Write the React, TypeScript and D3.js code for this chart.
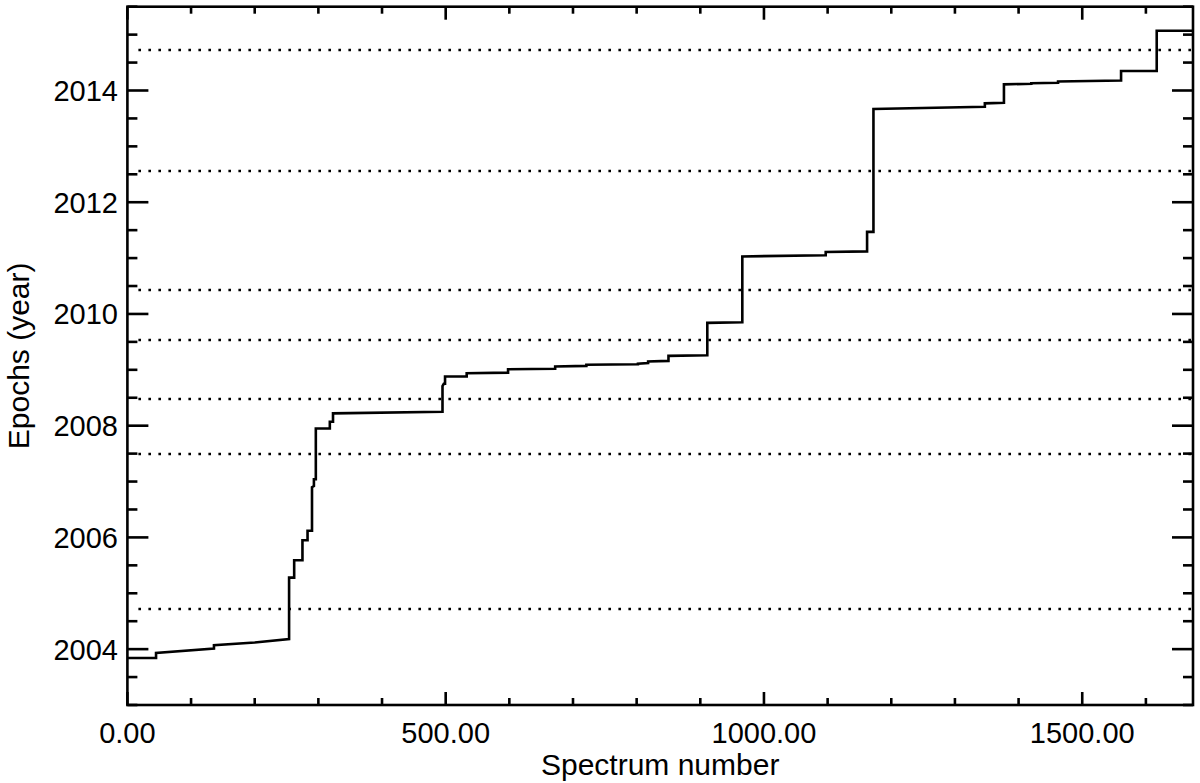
import React from "react";
import * as d3 from "d3";

// Spectrum number (x) and epoch in years (y) of the sorted spectra
const spectrumIndex = [
  0, 45, 45, 136, 136, 200, 254, 254, 262, 262, 275, 275, 283, 283, 290, 290, 293, 293, 296, 296,
  318, 318, 323, 323, 495, 495, 497, 499, 499, 533, 533, 598, 598, 672, 672, 721, 721, 802, 802,
  818, 818, 850, 850, 911, 911, 966, 966, 1097, 1097, 1162, 1162, 1172, 1172, 1347, 1347, 1377,
  1377, 1420, 1420, 1462, 1462, 1561, 1561, 1617, 1617, 1674,
];
const epochYear = [
  2003.84, 2003.84, 2003.93, 2004.01, 2004.07, 2004.12, 2004.18, 2005.28, 2005.28, 2005.59, 2005.59,
  2005.95, 2005.95, 2006.12, 2006.12, 2006.9, 2006.92, 2007.04, 2007.04, 2007.95, 2007.95, 2008.07,
  2008.07, 2008.22, 2008.25, 2008.71, 2008.75, 2008.75, 2008.88, 2008.88, 2008.94, 2008.95, 2009.01,
  2009.02, 2009.06, 2009.07, 2009.09, 2009.1, 2009.11, 2009.12, 2009.15, 2009.16, 2009.25, 2009.26,
  2009.84, 2009.85, 2011.03, 2011.05, 2011.11, 2011.12, 2011.47, 2011.47, 2013.67, 2013.71, 2013.77,
  2013.78, 2014.11, 2014.12, 2014.13, 2014.14, 2014.16, 2014.18, 2014.35, 2014.35, 2015.07, 2015.07,
];

// Dotted reference epochs
const referenceEpochs = [2014.72, 2012.56, 2010.43, 2009.54, 2008.47, 2007.5, 2004.72];

const xMajorTicks = [0, 500, 1000, 1500];
const xTickLabels = ["0.00", "500.00", "1000.00", "1500.00"];
const yMajorTicks = [2004, 2006, 2008, 2010, 2012, 2014];
const yTickLabels = ["2004", "2006", "2008", "2010", "2012", "2014"];

const W = 1200;
const H = 783;
const L = 127.4;
const R = 1193;
const T = 6.7;
const B = 705;
const FONT = "'Liberation Sans', Arial, Helvetica, sans-serif";

export default function App() {
  const x = d3.scaleLinear().domain([0, 1674]).range([L, R]);
  const y = d3.scaleLinear().domain([2003, 2015.5]).range([B, T]);

  const pts: [number, number][] = spectrumIndex.map((s, i) => [s, epochYear[i]]);
  const line = d3
    .line<[number, number]>()
    .x((d) => x(d[0]))
    .y((d) => y(d[1]));

  const xMinor = d3.range(0, 1674, 100).filter((v) => v % 500 !== 0);
  const yMinor = d3.range(2003, 2015.51, 0.5).filter((v) => Math.abs(v % 2) > 1e-6);

  const sw = 2.6;

  return (
    <svg width={W} height={H} style={{ display: "block", position: "absolute", left: 0, top: 0, background: "#fff" }}>
      <rect x={0} y={0} width={W} height={H} fill="#fff" />
      {/* reference dotted lines */}
      {referenceEpochs.map((e, i) => (
        <line
          key={"ref" + i}
          x1={L + 11}
          x2={R}
          y1={Math.round(y(e))}
          y2={Math.round(y(e))}
          stroke="#000"
          strokeWidth={2.6}
          strokeDasharray="2.6,7.4"
        />
      ))}
      {/* data line */}
      <path d={line(pts) || ""} fill="none" stroke="#000" strokeWidth={sw} strokeLinejoin="miter" />
      {/* frame */}
      <rect x={L} y={T} width={R - L} height={B - T} fill="none" stroke="#000" strokeWidth={sw} />
      {/* x ticks */}
      {xMajorTicks.map((v) => (
        <g key={"xM" + v}>
          <line x1={x(v)} x2={x(v)} y1={B} y2={B - 13} stroke="#000" strokeWidth={sw} />
          <line x1={x(v)} x2={x(v)} y1={T} y2={T + 13} stroke="#000" strokeWidth={sw} />
        </g>
      ))}
      {xMinor.map((v) => (
        <g key={"xm" + v}>
          <line x1={x(v)} x2={x(v)} y1={B} y2={B - 7} stroke="#000" strokeWidth={sw} />
          <line x1={x(v)} x2={x(v)} y1={T} y2={T + 7} stroke="#000" strokeWidth={sw} />
        </g>
      ))}
      {/* y ticks */}
      {yMajorTicks.map((v) => (
        <g key={"yM" + v}>
          <line x1={L} x2={L + 21} y1={y(v)} y2={y(v)} stroke="#000" strokeWidth={sw} />
          <line x1={R} x2={R - 21} y1={y(v)} y2={y(v)} stroke="#000" strokeWidth={sw} />
        </g>
      ))}
      {yMinor.map((v) => (
        <g key={"ym" + v}>
          <line x1={L} x2={L + 10} y1={y(v)} y2={y(v)} stroke="#000" strokeWidth={sw} />
          <line x1={R} x2={R - 10} y1={y(v)} y2={y(v)} stroke="#000" strokeWidth={sw} />
        </g>
      ))}
      {/* x tick labels */}
      {xMajorTicks.map((v, i) => (
        <text key={"xl" + v} x={x(v)} y={743} textAnchor="middle" fontFamily={FONT} fontSize={29} fill="#000">
          {xTickLabels[i]}
        </text>
      ))}
      {/* y tick labels */}
      {yMajorTicks.map((v, i) => (
        <text key={"yl" + v} x={118} y={y(v) + 10.5} textAnchor="end" fontFamily={FONT} fontSize={29} fill="#000">
          {yTickLabels[i]}
        </text>
      ))}
      {/* axis titles */}
      <text x={(L + R) / 2} y={775} textAnchor="middle" fontFamily={FONT} fontSize={30} fill="#000">
        Spectrum number
      </text>
      <text
        transform={`translate(29,${(T + B) / 2}) rotate(-90)`}
        textAnchor="middle"
        fontFamily={FONT}
        fontSize={30}
        fill="#000"
      >
        Epochs (year)
      </text>
    </svg>
  );
}
